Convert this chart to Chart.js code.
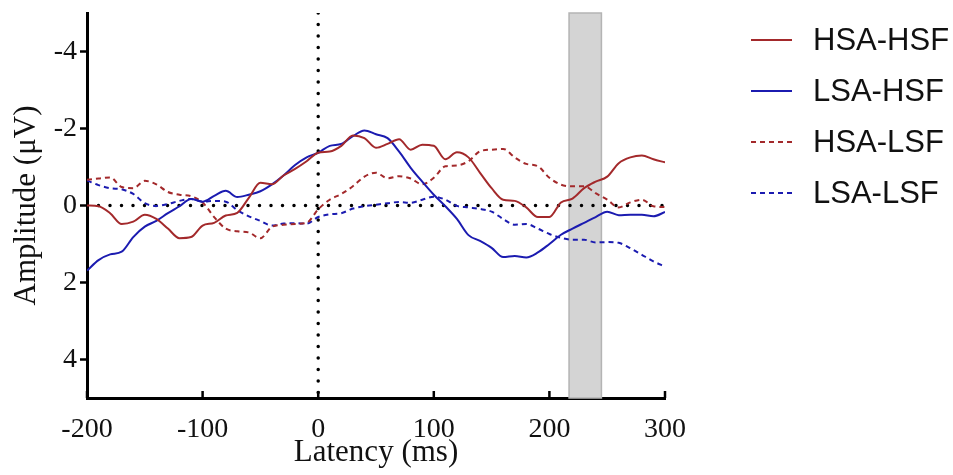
<!DOCTYPE html>
<html>
<head>
<meta charset="utf-8">
<script src="https://cdn.jsdelivr.net/npm/chart.js@4.4.1/dist/chart.umd.min.js"></script>
<style>
    html, body { margin: 0; padding: 0; background: #fff; }
    #wrap { width: 953px; height: 475px; }
</style>
</head>
<body>
<div id="wrap"><canvas id="erp-chart" width="953" height="475"></canvas></div>
<script>
const LATENCY = [
    -200, -190, -180, -170, -160, -150, -140, -130, -120, -110,
    -100, -90, -80, -70, -60, -50, -40, -30, -20, -10,
    0, 10, 20, 30, 40, 50, 60, 70, 80, 90,
    100, 110, 120, 130, 140, 150, 160, 170, 180, 190,
    200, 210, 220, 230, 240, 250, 260, 270, 280, 290, 300,
];
const HSA_HSF = [
    0.0, 0.02, 0.2, 0.48, 0.42, 0.24, 0.35, 0.6, 0.85, 0.82,
    0.52, 0.45, 0.26, 0.19, -0.2, -0.59, -0.55, -0.78, -0.95, -1.15,
    -1.37, -1.4, -1.55, -1.82, -1.75, -1.5, -1.6, -1.72, -1.45, -1.58,
    -1.55, -1.2, -1.38, -1.25, -0.85, -0.45, -0.15, -0.12, 0.05, 0.3,
    0.3, -0.08, -0.18, -0.45, -0.62, -0.75, -1.1, -1.25, -1.3, -1.2, -1.12,
];
const LSA_HSF = [
    1.69, 1.42, 1.27, 1.2, 0.82, 0.55, 0.4, 0.2, 0.02, -0.17,
    -0.1, -0.25, -0.38, -0.22, -0.28, -0.37, -0.55, -0.78, -1.05, -1.25,
    -1.37, -1.55, -1.6, -1.8, -1.95, -1.85, -1.75, -1.4, -0.98, -0.62,
    -0.28, 0.02, 0.35, 0.77, 0.92, 1.1, 1.34, 1.31, 1.35, 1.22,
    1.0, 0.76, 0.6, 0.45, 0.3, 0.16, 0.25, 0.24, 0.24, 0.28, 0.17,
];
const HSA_LSF = [
    -0.67, -0.7, -0.73, -0.48, -0.45, -0.64, -0.55, -0.35, -0.28, -0.24,
    -0.08, 0.3, 0.6, 0.67, 0.7, 0.85, 0.55, 0.5, 0.48, 0.45,
    0.1, -0.15, -0.3, -0.5, -0.75, -0.85, -0.71, -0.76, -0.7, -0.55,
    -0.72, -1.02, -1.04, -1.15, -1.41, -1.45, -1.47, -1.25, -1.08, -1.02,
    -0.72, -0.54, -0.5, -0.5, -0.32, -0.15, 0.05, -0.08, -0.15, 0.02, 0.04,
];
const LSA_LSF = [
    -0.65, -0.53, -0.45, -0.42, -0.3, -0.06, 0.01, -0.04, -0.12, -0.17,
    -0.1, -0.12, -0.1, 0.12, 0.28, 0.4, 0.52, 0.47, 0.46, 0.47,
    0.3, 0.23, 0.2, 0.08, 0.02, -0.02, -0.06, -0.09, -0.07, -0.15,
    -0.23, -0.15, 0.01, 0.05, 0.09, 0.16, 0.35, 0.5, 0.48, 0.6,
    0.74, 0.84, 0.89, 0.89, 0.96, 0.95, 0.97, 1.11, 1.28, 1.45, 1.59,
];
const X_TICKS = [-200, -100, 0, 100, 200, 300];
const Y_TICKS = [-4, -2, 0, 2, 4];
const WINDOW_MS = [217, 245];

const RED = "#a3292b";
const BLUE = "#1b1bb0";
const SERIES = [
    { label: "HSA-HSF", values: HSA_HSF, color: RED, dash: [] },
    { label: "LSA-HSF", values: LSA_HSF, color: BLUE, dash: [] },
    { label: "HSA-LSF", values: HSA_LSF, color: RED, dash: [5, 4] },
    { label: "LSA-LSF", values: LSA_LSF, color: BLUE, dash: [5, 4] },
];

Chart.defaults.font.family = "'Liberation Serif', 'Times New Roman', serif";
Chart.defaults.color = "#111";

const toPoints = values => values.map((v, i) => ({ x: LATENCY[i], y: v }));

const datasets = SERIES.map(s => ({
    label: s.label,
    data: toPoints(s.values),
    borderColor: s.color,
    borderDash: s.dash,
    borderWidth: 2,
    pointRadius: 0,
    cubicInterpolationMode: "monotone",
    fill: false,
}));

// zero reference lines, drawn as dots
const dotted = {
    borderColor: "#000",
    borderWidth: 3.5,
    borderDash: [0, 11.5],
    borderCapStyle: "round",
    pointRadius: 0,
    fill: false,
};
datasets.push({ label: "zero-y", data: [{ x: -200, y: 0 }, { x: 300, y: 0 }], ...dotted });
datasets.push({ label: "zero-x", data: [{ x: 0, y: -5 }, { x: 0, y: 5 }], ...dotted });

const windowBand = {
    id: "windowBand",
    beforeDatasetsDraw(chart) {
        const { ctx, chartArea, scales } = chart;
        const x1 = scales.x.getPixelForValue(WINDOW_MS[0]);
        const x2 = scales.x.getPixelForValue(WINDOW_MS[1]);
        ctx.save();
        ctx.fillStyle = "#d4d4d4";
        ctx.strokeStyle = "#b4b4b4";
        ctx.lineWidth = 1.5;
        ctx.fillRect(x1, chartArea.top, x2 - x1, chartArea.bottom - chartArea.top);
        ctx.strokeRect(x1, chartArea.top, x2 - x1, chartArea.bottom - chartArea.top);
        ctx.restore();
    },
};

// x ticks point inward, above the axis line
const innerTicks = {
    id: "innerTicks",
    afterDraw(chart) {
        const { ctx, chartArea, scales } = chart;
        ctx.save();
        ctx.strokeStyle = "#000";
        ctx.lineWidth = 2.5;
        X_TICKS.forEach(v => {
            const px = scales.x.getPixelForValue(v);
            ctx.beginPath();
            ctx.moveTo(px, chartArea.bottom);
            ctx.lineTo(px, chartArea.bottom - 7);
            ctx.stroke();
        });
        ctx.restore();
    },
};

const sideLegend = {
    id: "sideLegend",
    afterDraw(chart) {
        const ctx = chart.ctx;
        ctx.save();
        ctx.font = "31px 'Liberation Sans', Arial, sans-serif";
        ctx.textBaseline = "middle";
        SERIES.forEach((s, i) => {
            const y = 40 + i * 51;
            ctx.strokeStyle = s.color;
            ctx.lineWidth = 2;
            ctx.setLineDash(s.dash);
            ctx.beginPath();
            ctx.moveTo(751, y);
            ctx.lineTo(792, y);
            ctx.stroke();
            ctx.setLineDash([]);
            ctx.fillStyle = "#111";
            ctx.fillText(s.label, 813, y + 1);
        });
        ctx.restore();
    },
};

new Chart(document.getElementById("erp-chart"), {
    type: "line",
    data: { datasets },
    plugins: [windowBand, innerTicks, sideLegend],
    options: {
        responsive: false,
        animation: false,
        layout: { padding: { top: 13, right: 288, left: 0, bottom: 0 } },
        plugins: { legend: { display: false }, tooltip: { enabled: false } },
        scales: {
            x: {
                type: "linear",
                min: -200,
                max: 300,
                afterBuildTicks: scale => { scale.ticks = X_TICKS.map(v => ({ value: v })); },
                afterFit: scale => { scale.height = 77; scale.paddingLeft = 0; scale.paddingRight = 0; },
                ticks: { font: { size: 28 }, padding: 7, color: "#111", maxRotation: 0 },
                grid: { display: false },
                border: { display: true, color: "#000", width: 3 },
                title: { display: true, text: "Latency (ms)", font: { size: 31 }, padding: { top: 0, bottom: 4 }, color: "#111" },
            },
            y: {
                type: "linear",
                min: -5,
                max: 5,
                reverse: true,
                afterBuildTicks: scale => { scale.ticks = Y_TICKS.map(v => ({ value: v })); },
                afterFit: scale => { scale.width = 87; scale.paddingTop = 0; scale.paddingBottom = 0; },
                ticks: { font: { size: 28 }, padding: 3, color: "#111" },
                grid: { drawOnChartArea: false, drawTicks: true, tickLength: 7, tickWidth: 2.5, tickColor: "#000" },
                border: { display: true, color: "#000", width: 3 },
                title: { display: true, text: "Amplitude (μV)", font: { size: 31 }, padding: { top: 8, bottom: 0 }, color: "#111" },
            },
        },
    },
});
</script>
</body>
</html>
